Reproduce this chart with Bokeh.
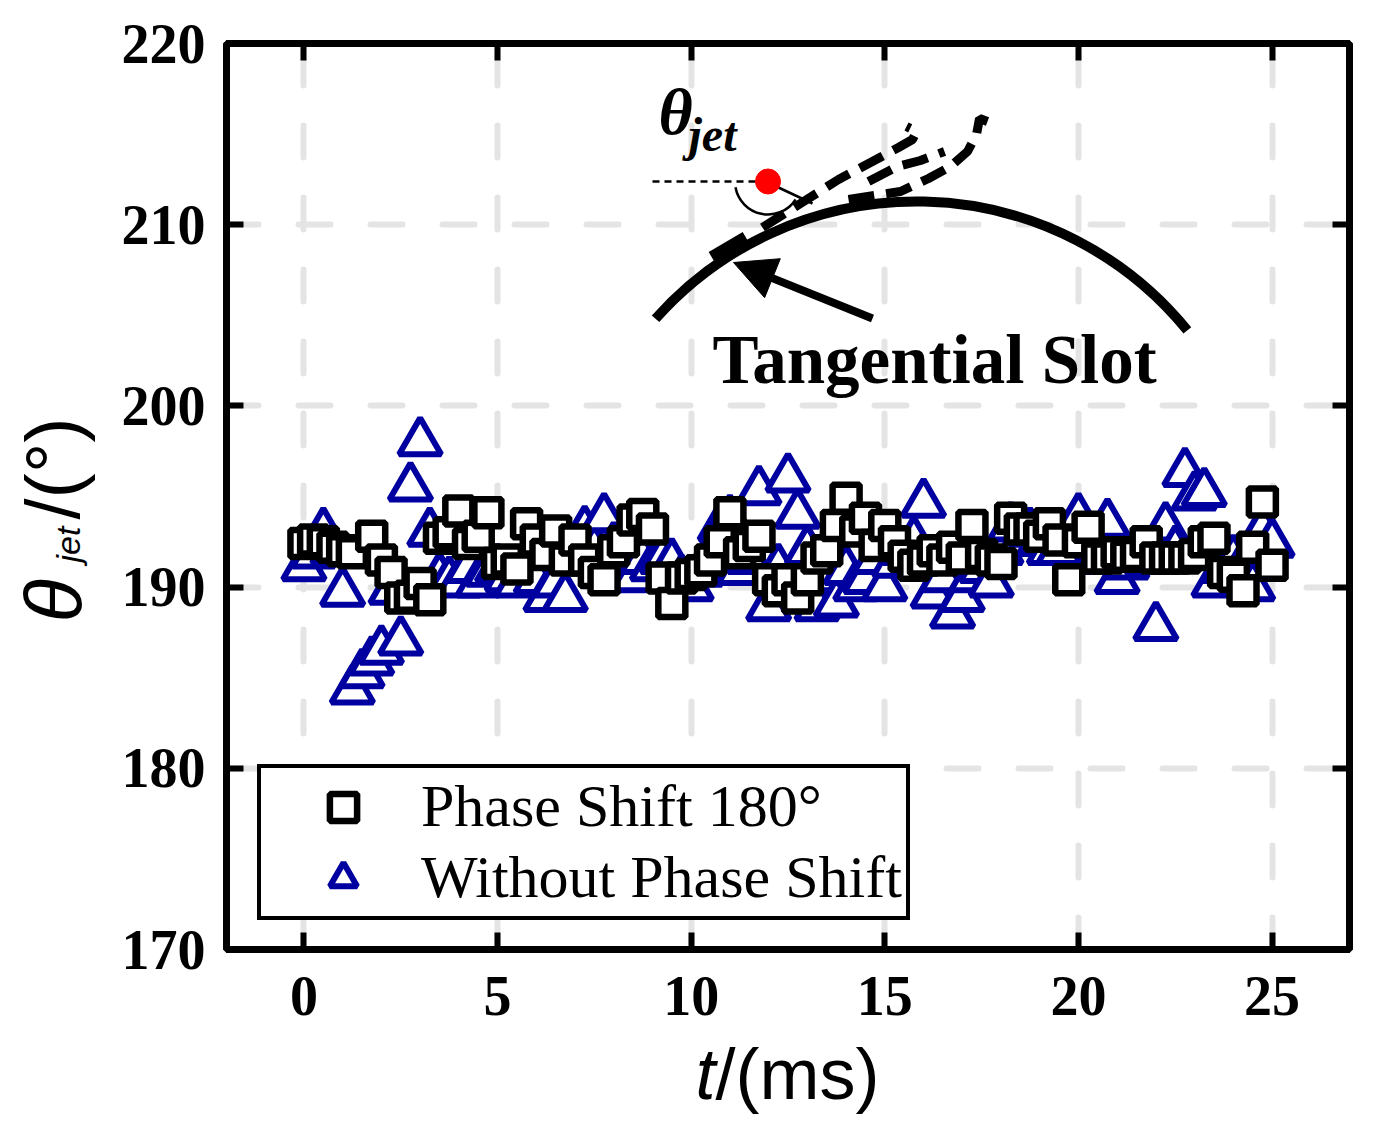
import math
from bokeh.plotting import figure
from bokeh.layouts import row, column
from bokeh.models import (Label, Legend, LegendItem, LinearAxis, FixedTicker,
                          Arrow, NormalHead)
from bokeh.core.properties import value
from bokeh.embed import file_html
from bokeh.resources import INLINE

# ---------------- data ----------------
sq_t = [0.0, 0.25, 0.5, 0.75, 1.0, 1.25, 1.75, 2.0, 2.25, 2.5, 2.75, 3.0, 3.25, 3.5, 3.75,
        4.0, 4.25, 4.5, 4.75, 5.0, 5.25, 5.5, 5.75, 6.0, 6.25, 6.5, 6.75, 7.0, 7.25, 7.5,
        7.75, 8.0, 8.25, 8.5, 8.75, 9.0, 9.25, 9.5, 9.75, 10.0, 10.25, 10.5, 10.75, 11.0,
        11.25, 11.5, 11.75, 12.0, 12.25, 12.5, 12.75, 13.0, 13.25, 13.5, 13.75, 14.0, 14.25,
        14.5, 14.75, 15.0, 15.25, 15.5, 15.75, 16.0, 16.25, 16.5, 16.75, 17.0, 17.25, 17.5,
        17.75, 18.0, 18.25, 18.5, 18.75, 19.0, 19.25, 19.5, 19.75, 20.0, 20.25, 20.5, 20.75,
        21.0, 21.25, 21.5, 21.75, 22.0, 22.25, 22.5, 22.75, 23.0, 23.25, 23.5, 23.75, 24.0,
        24.25, 24.5, 24.75, 25.0]
sq_theta = [192.4, 192.6, 192.5, 192.2, 192.0, 191.9, 192.8, 191.5, 190.8, 189.4, 189.5, 190.2,
            189.3, 192.7, 193.0, 194.2, 192.4, 192.8, 194.1, 191.3, 191.5, 191.0, 193.5, 192.6,
            191.8, 193.1, 191.5, 192.6, 191.5, 190.8, 190.4, 192.0, 192.5, 193.7, 194.0, 193.2,
            190.5, 189.1, 190.5, 190.7, 190.9, 191.5, 192.5, 194.1, 191.9, 192.3, 192.8, 190.4,
            189.8, 190.4, 189.4, 190.4, 191.6, 192.0, 193.4, 194.9, 193.1, 193.8, 192.3, 193.4,
            192.5, 191.7, 191.2, 191.5, 192.0, 191.5, 192.2, 191.6, 193.4, 191.8, 191.5, 191.3,
            193.8, 193.2, 193.2, 192.8, 193.5, 192.6, 190.4, 192.5, 193.3, 191.6, 191.6, 191.9,
            191.7, 191.8, 192.5, 191.6, 191.6, 191.6, 191.6, 191.8, 192.5, 192.7, 190.8, 190.6,
            189.8, 192.2, 194.7, 191.2]

tri_t = [0.0, 0.25, 0.5, 0.75, 1.0, 1.25, 1.5, 1.75, 2.0, 2.25, 2.5, 2.75, 3.0, 3.25, 3.5,
         3.75, 4.0, 4.25, 4.5, 4.75, 5.0, 5.25, 5.5, 5.75, 6.0, 6.25, 6.5, 6.75, 7.0, 7.25,
         7.5, 7.75, 8.0, 8.25, 8.5, 8.75, 9.0, 9.25, 9.5, 9.75, 10.0, 10.25, 10.5, 10.75,
         11.0, 11.25, 11.5, 11.75, 12.0, 12.25, 12.5, 12.75, 13.0, 13.25, 13.5, 13.75, 14.0,
         14.25, 14.5, 14.75, 15.0, 15.25, 15.5, 15.75, 16.0, 16.25, 16.5, 16.75, 17.0, 17.25,
         17.5, 17.75, 18.0, 18.25, 18.5, 18.75, 19.0, 19.25, 19.5, 19.75, 20.0, 20.25, 20.5,
         20.75, 21.0, 21.25, 21.5, 21.75, 22.0, 22.25, 22.5, 22.75, 23.0, 23.25, 23.5, 23.75,
         24.0, 24.25, 24.5, 24.75, 25.0]
tri_theta = [191.1, 191.8, 193.0, 192.0, 189.7, 184.3, 185.2, 185.9, 186.5, 189.8, 187.0, 195.5,
             198.0, 193.0, 190.5, 190.3, 190.2, 191.0, 190.2, 190.8, 191.0, 190.5, 190.2, 191.0,
             190.4, 189.4, 190.2, 189.4, 191.5, 193.1, 192.0, 193.8, 192.2, 191.0, 190.5, 191.5,
             191.1, 191.5, 191.3, 190.4, 190.0, 190.8, 191.8, 193.3, 193.7, 190.9, 191.5, 195.3,
             188.9, 191.0, 196.0, 194.0, 192.0, 188.9, 190.5, 189.1, 190.9, 190.0, 190.4, 191.5,
             190.0, 191.3, 192.0, 192.5, 194.6, 189.6, 190.5, 188.5, 189.4, 190.5, 191.0, 190.2,
             192.0, 193.3, 192.5, 193.0, 192.5, 192.0, 192.0, 192.8, 193.8, 192.5, 191.5, 193.5,
             190.4, 191.2, 191.8, 191.5, 187.8, 193.3, 192.0, 196.3, 195.0, 195.2, 190.2, 191.0,
             191.5, 191.2, 190.0, 193.1, 192.4]

x_ticks = [0, 5, 10, 15, 20, 25]
y_ticks = [170, 180, 190, 200, 210, 220]
series_labels = ["Phase Shift 180°", "Without Phase Shift"]

# ---------------- layout geometry (page pixels) ----------------
TOTAL_W, TOTAL_H = 1376, 1116
LW = 110                      # left strip (y title)
MW, MH = TOTAL_W - LW, 1031   # main figure
BH = TOTAL_H - MH             # bottom strip (x title), full width
X_RANGE = (-2, 27)
Y_RANGE = (170, 220)
FL, FR, FT, FB = 226, 1349, 43, 949   # frame edges in page pixels
BASE_SHIFT = 0.34                     # Bokeh's alphabetic-baseline offset (em)


def X(px):
    return X_RANGE[0] + (px - FL) * (X_RANGE[1] - X_RANGE[0]) / (FR - FL)


def Y(py):
    return Y_RANGE[1] - (py - FT) * (Y_RANGE[1] - Y_RANGE[0]) / (FB - FT)


p = figure(width=MW, height=MH, x_range=X_RANGE, y_range=Y_RANGE,
           output_backend="svg", toolbar_location=None,
           min_border_left=FL - LW, min_border_right=TOTAL_W - FR,
           min_border_top=FT, min_border_bottom=MH - FB)
p.background_fill_color = "white"
p.border_fill_color = "white"
p.outline_line_color = "black"
p.outline_line_width = 7

TICK_FONT = "Liberation Serif"
for ax in (p.xaxis[0], p.yaxis[0]):
    ax.axis_line_width = 7
    ax.axis_line_color = "black"
    ax.major_tick_in = 17
    ax.major_tick_out = 0
    ax.major_tick_line_width = 6
    ax.minor_tick_line_color = None
    ax.major_label_text_font = TICK_FONT
    ax.major_label_text_font_style = "bold"
    ax.major_label_text_font_size = "56px"
    ax.major_label_text_color = "black"
p.xaxis[0].ticker = FixedTicker(ticks=x_ticks)
p.yaxis[0].ticker = FixedTicker(ticks=y_ticks)
p.xaxis[0].major_label_standoff = 27
p.yaxis[0].major_label_standoff = 21

for place, ticks in (("above", x_ticks), ("right", y_ticks)):
    ax = LinearAxis(ticker=FixedTicker(ticks=ticks))
    ax.axis_line_width = 7
    ax.major_tick_in = 17
    ax.major_tick_out = 0
    ax.major_tick_line_width = 6
    ax.minor_tick_line_color = None
    ax.major_label_text_color = None
    ax.major_label_text_font_size = "1px"
    ax.major_label_standoff = 0
    p.add_layout(ax, place)

for g in (p.xgrid[0], p.ygrid[0]):
    g.grid_line_color = "#e4e4e4"
    g.grid_line_width = 6
    g.grid_line_dash = "32 40"
    g.grid_line_cap = "round"
p.xgrid[0].ticker = FixedTicker(ticks=x_ticks)
p.ygrid[0].ticker = FixedTicker(ticks=y_ticks)

# ---------------- inset schematic ----------------
p.arc(x=X(916), y=Y(550), radius=349, radius_units="screen",
      start_angle=math.radians(39.1), end_angle=math.radians(138.4),
      direction="anticlock", line_color="black", line_width=10)
p.line(x=[X(712), X(746)], y=[Y(258), Y(238)], line_color="black", line_width=15)
jet_a = [(762, 227), (800, 203), (838, 179), (870, 162), (898, 147), (912, 139), (916, 131), (906, 126)]
jet_b = [(848, 199), (874, 195), (900, 191), (928, 178), (950, 166), (967, 151), (976, 134), (979, 118), (987, 121)]
jet_c = [(868, 181), (897, 166), (920, 160), (944, 151)]
for pts in (jet_a, jet_b, jet_c):
    p.line(x=[X(a) for a, _ in pts], y=[Y(b) for _, b in pts], line_color="black",
           line_width=9, line_dash="26 12")
p.line(x=[X(652), X(757)], y=[Y(181), Y(181)], line_color="black", line_width=2.5,
       line_dash="7 5")
p.arc(x=X(767.5), y=Y(181), radius=33, radius_units="screen",
      start_angle=math.radians(190), end_angle=math.radians(327),
      direction="anticlock", line_color="black", line_width=2.5)
p.line(x=[X(778), X(812)], y=[Y(187), Y(203)], line_color="black", line_width=2.5)
p.scatter(x=[X(767.5)], y=[Y(181)], marker="circle", size=25, fill_color="red",
          line_color="red")
p.add_layout(Arrow(x_start=X(872), y_start=Y(318), x_end=X(733), y_end=Y(262),
                   line_width=8, line_color="black",
                   end=NormalHead(size=42, fill_color="black", line_color="black",
                                  line_width=1)))

# ---------------- data series ----------------
r_tri = p.scatter(x=tri_t, y=tri_theta, marker="triangle", size=42, line_width=6,
                  line_color="#0000A0", fill_color="white")
r_sq = p.scatter(x=sq_t, y=sq_theta, marker="square", size=27, line_width=6.5,
                 line_color="black", fill_color="white")

legend = Legend(items=[LegendItem(label=series_labels[0], renderers=[r_sq]),
                       LegendItem(label=series_labels[1], renderers=[r_tri])],
                location=(31, 29))
legend.label_text_font = "Liberation Serif"
legend.label_text_font_size = "60px"
legend.label_text_color = "black"
legend.glyph_width = 156
legend.glyph_height = 68
legend.label_height = 68
legend.label_standoff = 0
legend.spacing = 2
legend.padding = 4
legend.margin = 0
legend.border_line_color = "black"
legend.border_line_alpha = 1.0
legend.border_line_width = 4
legend.background_fill_color = "white"
legend.background_fill_alpha = 1.0
p.add_layout(legend)


def lab(px, py, text, font, size, style="normal"):
    p.add_layout(Label(x=X(px), y=Y(py - BASE_SHIFT * size), text=text, text_font=font,
                       text_font_size=f"{size}px", text_font_style=style,
                       text_align="left", text_baseline="alphabetic",
                       text_color="black"))


lab(712, 383, "Tangential Slot", "Liberation Serif", 69, "bold")
lab(658, 133, "θ", "Liberation Serif", 66, "bold italic")
lab(688, 150, "jet", "Liberation Serif", 48, "bold italic")

# ---------------- axis title strips ----------------
def strip(w, h, x_range, y_range):
    f = figure(width=w, height=h, x_range=x_range, y_range=y_range,
               output_backend="svg", toolbar_location=None,
               x_axis_type=None, y_axis_type=None, min_border=0)
    f.outline_line_color = None
    f.background_fill_color = "white"
    f.border_fill_color = "white"
    return f


# the left strip sits in a row with the main plot, so Bokeh aligns its frame
# with the main frame (page y FT..FB); use negative page y as data y
left = strip(LW, MH, (0, LW), (-FB, -FT))
bottom = strip(TOTAL_W, BH, (0, TOTAL_W), (0, BH))


def ltxt(px, py, text, size, style):
    # rotated text: baseline runs vertically at page x = px, text starts at page y = py
    left.text(x=[px - BASE_SHIFT * size], y=[-py], text=[text], angle=math.pi / 2,
              text_font=value("Liberation Sans"), text_font_size=value(f"{size}px"),
              text_font_style=style, text_align="left", text_baseline="alphabetic",
              text_color="black")


def btxt(px, py, text, size, style):
    bottom.text(x=[px], y=[TOTAL_H - (py - BASE_SHIFT * size)], text=[text],
                text_font=value("Liberation Sans"), text_font_size=value(f"{size}px"),
                text_font_style=style, text_align="left", text_baseline="alphabetic",
                text_color="black")


ltxt(80, 622, "θ", 80, "italic")
ltxt(79, 562, "jet", 34, "italic")
ltxt(78, 519, "/(°)", 76, "normal")
btxt(695, 1098, "t", 72, "italic")
btxt(715, 1098, "/(ms)", 72, "normal")

layout = column(row(left, p), bottom)
open("out.html", "w").write(file_html(layout, INLINE))
